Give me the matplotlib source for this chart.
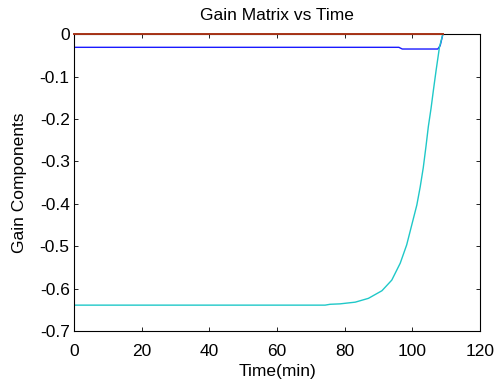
import matplotlib
matplotlib.use("Agg")
import matplotlib.pyplot as plt

plt.rcParams['font.family'] = ['Liberation Sans', 'DejaVu Sans']

# Time samples (min) and gain components
t_cyan = [0, 74.2, 75.7, 78.6, 83.1, 87.0, 91.0, 93.9, 96.4, 98.3, 99.8,
          101.3, 102.3, 103.2, 104.0, 104.7, 105.5, 106.2, 107.0, 108.0, 109.0]
k_cyan = [-0.639, -0.639, -0.637, -0.636, -0.632, -0.623, -0.605, -0.58, -0.54,
          -0.497, -0.45, -0.403, -0.36, -0.315, -0.265, -0.218, -0.175, -0.132,
          -0.085, -0.03, 0.0]

t_blue = [0, 96.0, 97.0, 107.5, 108.2, 109.0]
k_blue = [-0.031, -0.031, -0.035, -0.035, -0.027, 0.0]

t_red = [0, 109.0]
k_red = [0.0, 0.0]

fig = plt.figure(figsize=(4.96, 3.87), dpi=100)
ax = fig.add_axes([0.149, 0.1447, 0.819, 0.767])

ax.plot(t_red, k_red, color='#a83418', lw=1.4, clip_on=False, zorder=5)
ax.plot(t_blue, k_blue, color='#1a1aff', lw=1.0)
ax.plot(t_cyan, k_cyan, color='#1fc8c8', lw=1.0)

ax.set_xlim(0, 120)
ax.set_ylim(-0.7, 0)
ax.set_xticks([0, 20, 40, 60, 80, 100, 120])
ax.set_yticks([-0.7, -0.6, -0.5, -0.4, -0.3, -0.2, -0.1, 0])
ax.set_yticklabels(['-0.7', '-0.6', '-0.5', '-0.4', '-0.3', '-0.2', '-0.1', '0'])
ax.tick_params(direction='in', top=True, right=True, labelsize=12.5,
               length=3, width=0.6)
ax.tick_params(axis='y', pad=3)
ax.tick_params(axis='x', pad=9)
for s in ax.spines.values():
    s.set_linewidth(0.8)

ax.set_title('Gain Matrix vs Time', fontsize=12.5, pad=10)
ax.set_xlabel('Time(min)', fontsize=12.5, labelpad=4)
ax.set_ylabel('Gain Components', fontsize=12.5, labelpad=9)

fig.savefig('out.png', dpi=100)
